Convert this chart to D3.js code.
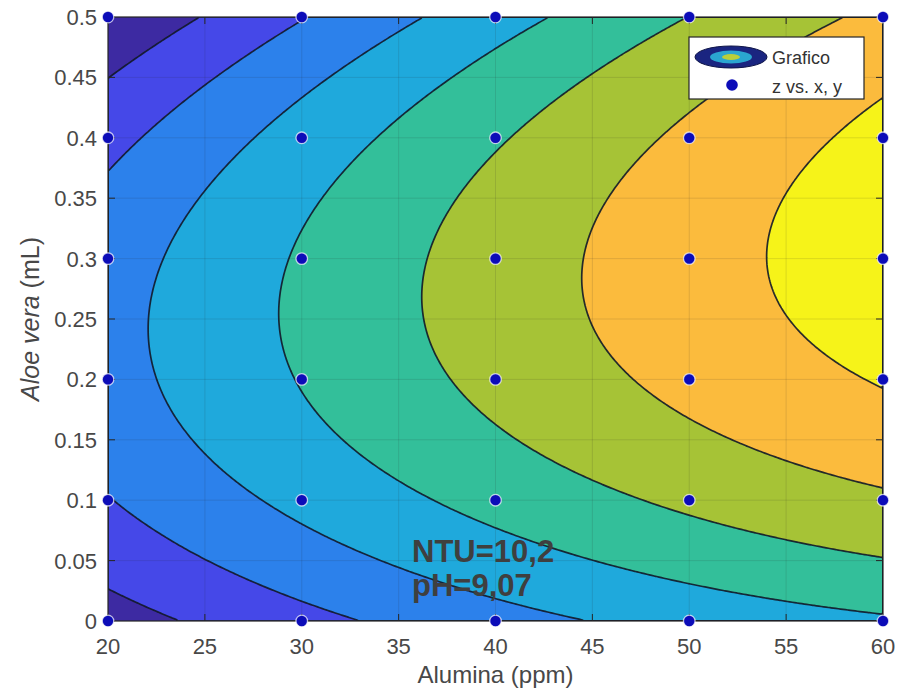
<!DOCTYPE html>
<html>
<head>
<meta charset="utf-8">
<script src="https://d3js.org/d3.v7.min.js"></script>
<style>
  html, body { margin: 0; padding: 0; background: #fff; }
  svg { display: block; font-family: "Liberation Sans", Arial, sans-serif; }
</style>
</head>
<body>
<svg id="chart" width="901" height="691"></svg>
<script>
// Sample points (Alumina in ppm, Aloe vera in mL)
const alumina = [20, 30, 40, 50, 60];
const aloeVera = [0, 0.1, 0.2, 0.3, 0.4, 0.5];

// Measured response z at each Aloe vera level, one list per Alumina dose
const zAlumina20 = [5.5, 19.6, 26.2, 25.3, 16.9, 1.0];
const zAlumina30 = [17.0, 32.5, 40.5, 41.0, 34.0, 19.5];
const zAlumina40 = [26.3, 43.2, 52.6, 54.5, 48.9, 35.9];
const zAlumina50 = [33.5, 51.9, 62.7, 66.0, 61.8, 50.1];
const zAlumina60 = [38.7, 58.4, 70.7, 75.4, 72.6, 62.3];

const contourLevels = [10, 20, 30, 40, 50, 60, 70];
const xTicks = [20, 25, 30, 35, 40, 45, 50, 55, 60];
const yTicks = [0, 0.05, 0.1, 0.15, 0.2, 0.25, 0.3, 0.35, 0.4, 0.45, 0.5];

// parula-like fill for the 8 bands (below first level .. above last)
const bandColors = ['#3d2aa2', '#4548e8', '#2c81eb', '#1fa9dc', '#33bf9a', '#a6c336', '#fbbb3d', '#f6f319'];

const margin = {left: 108, right: 18, top: 17, bottom: 70};
const width = 901, height = 691;
const innerW = width - margin.left - margin.right;
const innerH = height - margin.top - margin.bottom;

const svg = d3.select('#chart');

const x = d3.scaleLinear().domain([20, 60]).range([margin.left, margin.left + innerW]);
const y = d3.scaleLinear().domain([0, 0.5]).range([margin.top + innerH, margin.top]);

// --- poly22 least squares fit of z on (x, y), like the curve fitting tool
const zColumns = [zAlumina20, zAlumina30, zAlumina40, zAlumina50, zAlumina60];
const samples = [];
alumina.forEach((a, i) => {
  aloeVera.forEach((v, j) => samples.push({a: a, v: v, z: zColumns[i][j]}));
});

function terms(a, v) {
  const s = (a - 40) / 20, t = (v - 0.25) / 0.25;
  return [1, s, t, s * s, s * t, t * t];
}

function solve(M, b) {
  const n = b.length;
  const A = M.map((row, i) => row.concat([b[i]]));
  for (let c = 0; c < n; c++) {
    let p = c;
    for (let r = c + 1; r < n; r++) if (Math.abs(A[r][c]) > Math.abs(A[p][c])) p = r;
    [A[c], A[p]] = [A[p], A[c]];
    for (let r = 0; r < n; r++) {
      if (r === c) continue;
      const f = A[r][c] / A[c][c];
      for (let k = c; k <= n; k++) A[r][k] -= f * A[c][k];
    }
  }
  return A.map((row, i) => row[n] / row[i]);
}

const nT = 6;
const AtA = d3.range(nT).map(() => new Array(nT).fill(0));
const Atz = new Array(nT).fill(0);
samples.forEach(d => {
  const r = terms(d.a, d.v);
  for (let i = 0; i < nT; i++) {
    Atz[i] += r[i] * d.z;
    for (let k = 0; k < nT; k++) AtA[i][k] += r[i] * r[k];
  }
});
const coef = solve(AtA, Atz);
const surface = (a, v) => d3.sum(terms(a, v), (t, i) => t * coef[i]);

// evaluate the fitted surface at cell centres of a fine grid
const nx = 320, ny = 250;
const grid = new Array(nx * ny);
for (let j = 0; j < ny; j++) {
  for (let i = 0; i < nx; i++) {
    grid[j * nx + i] = surface(20 + (i + 0.5) * 40 / nx, (j + 0.5) * 0.5 / ny);
  }
}
const bands = d3.contours().size([nx, ny]).thresholds(contourLevels)(grid);

const toPixels = d3.geoTransform({
  point: function(px, py) {
    this.stream.point(x(20 + px * 40 / nx), y(py * 0.5 / ny));
  }
});
const path = d3.geoPath(toPixels);

svg.append('defs').append('clipPath').attr('id', 'plot-clip')
  .append('rect')
  .attr('x', margin.left).attr('y', margin.top)
  .attr('width', innerW).attr('height', innerH);

const plot = svg.append('g').attr('clip-path', 'url(#plot-clip)');

plot.append('rect')
  .attr('x', margin.left).attr('y', margin.top)
  .attr('width', innerW).attr('height', innerH)
  .attr('fill', bandColors[0]);

plot.selectAll('path.band')
  .data(bands)
  .enter().append('path')
  .attr('class', 'band')
  .attr('d', path)
  .attr('fill', (d, i) => bandColors[i + 1]);

// grid lines
plot.append('g')
  .selectAll('line')
  .data(xTicks)
  .enter().append('line')
  .attr('x1', d => x(d)).attr('x2', d => x(d))
  .attr('y1', margin.top).attr('y2', margin.top + innerH)
  .attr('stroke', '#262626').attr('stroke-opacity', 0.13).attr('stroke-width', 1);
plot.append('g')
  .selectAll('line')
  .data(yTicks)
  .enter().append('line')
  .attr('x1', margin.left).attr('x2', margin.left + innerW)
  .attr('y1', d => y(d)).attr('y2', d => y(d))
  .attr('stroke', '#262626').attr('stroke-opacity', 0.13).attr('stroke-width', 1);

plot.selectAll('path.line')
  .data(bands)
  .enter().append('path')
  .attr('class', 'line')
  .attr('d', path)
  .attr('fill', 'none')
  .attr('stroke', '#121828')
  .attr('stroke-opacity', 0.9)
  .attr('stroke-width', 1.7);

// axes box with inward ticks
const tickLen = 7;
const axisColor = '#262626';
const labelColor = '#484848';

svg.append('rect')
  .attr('x', margin.left).attr('y', margin.top)
  .attr('width', innerW).attr('height', innerH)
  .attr('fill', 'none').attr('stroke', axisColor).attr('stroke-width', 1.2);

const ticks = svg.append('g').attr('stroke', axisColor).attr('stroke-width', 1);
xTicks.forEach(t => {
  ticks.append('line').attr('x1', x(t)).attr('x2', x(t))
    .attr('y1', margin.top + innerH).attr('y2', margin.top + innerH - tickLen);
  ticks.append('line').attr('x1', x(t)).attr('x2', x(t))
    .attr('y1', margin.top).attr('y2', margin.top + tickLen);
});
yTicks.forEach(t => {
  ticks.append('line').attr('y1', y(t)).attr('y2', y(t))
    .attr('x1', margin.left).attr('x2', margin.left + tickLen);
  ticks.append('line').attr('y1', y(t)).attr('y2', y(t))
    .attr('x1', margin.left + innerW).attr('x2', margin.left + innerW - tickLen);
});

svg.append('g').selectAll('text')
  .data(xTicks)
  .enter().append('text')
  .attr('x', d => x(d))
  .attr('y', margin.top + innerH + 33)
  .attr('text-anchor', 'middle')
  .attr('font-size', 22)
  .attr('fill', labelColor)
  .text(d => d);

svg.append('g').selectAll('text')
  .data(yTicks)
  .enter().append('text')
  .attr('x', margin.left - 11)
  .attr('y', d => y(d))
  .attr('dy', '0.36em')
  .attr('text-anchor', 'end')
  .attr('font-size', 22)
  .attr('fill', labelColor)
  .text(d => d3.format('~g')(d));

svg.append('text')
  .attr('x', x(40))
  .attr('y', 683)
  .attr('text-anchor', 'middle')
  .attr('font-size', 24)
  .attr('fill', labelColor)
  .text('Alumina (ppm)');

const yLabel = svg.append('text')
  .attr('transform', `translate(39, ${y(0.25)}) rotate(-90)`)
  .attr('text-anchor', 'middle')
  .attr('font-size', 25)
  .attr('fill', labelColor);
yLabel.append('tspan').attr('font-style', 'italic').text('Aloe vera');
yLabel.append('tspan').text(' (mL)');

// sample points
const points = [];
alumina.forEach(a => aloeVera.forEach(v => points.push({a: a, v: v})));
svg.append('g').selectAll('circle')
  .data(points)
  .enter().append('circle')
  .attr('cx', d => x(d.a))
  .attr('cy', d => y(d.v))
  .attr('r', 5.8)
  .attr('fill', '#0c0cb8')
  .attr('stroke', '#ffffff')
  .attr('stroke-opacity', 0.7)
  .attr('stroke-width', 1.3);

// annotation
const note = svg.append('g')
  .attr('font-size', 31)
  .attr('font-weight', 'bold')
  .attr('fill', '#3f3f3f');
note.append('text').attr('x', 412).attr('y', 562).text('NTU=10,2');
note.append('text').attr('x', 412).attr('y', 596).text('pH=9,07');

// legend
const lg = svg.append('g').attr('transform', 'translate(689, 37)');
lg.append('rect')
  .attr('width', 175).attr('height', 62)
  .attr('fill', '#ffffff').attr('stroke', axisColor).attr('stroke-width', 1.2);
const icon = lg.append('g').attr('transform', 'translate(42, 20)');
icon.append('ellipse').attr('rx', 36).attr('ry', 11)
  .attr('fill', '#1a2580').attr('stroke', '#0f1548').attr('stroke-width', 1);
icon.append('ellipse').attr('rx', 21).attr('ry', 6.5)
  .attr('fill', '#2aa6d0');
icon.append('ellipse').attr('rx', 9).attr('ry', 3)
  .attr('fill', '#b9cf3a');
lg.append('circle').attr('cx', 43).attr('cy', 48).attr('r', 5.8).attr('fill', '#0c0cb8');
lg.append('text').attr('x', 83).attr('y', 27).attr('font-size', 18).attr('fill', '#333')
  .text('Grafico');
lg.append('text').attr('x', 83).attr('y', 56).attr('font-size', 18).attr('fill', '#333')
  .text('z vs. x, y');
</script>
</body>
</html>
